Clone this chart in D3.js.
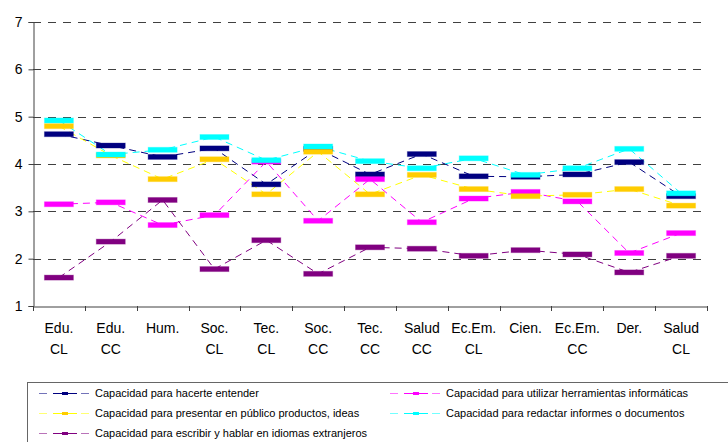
<!DOCTYPE html>
<html>
<head>
<meta charset="utf-8">
<script src="https://cdn.jsdelivr.net/npm/d3@7"></script>
<style>
  body { margin: 0; background: #fff; }
  svg { display: block; font-family: "Liberation Sans", Arial, sans-serif; }
</style>
</head>
<body>
<div id="chart"></div>
<script>
const categories = ["Edu. CL", "Edu. CC", "Hum.", "Soc. CL", "Tec. CL", "Soc. CC", "Tec. CC",
  "Salud CC", "Ec.Em. CL", "Cien.", "Ec.Em. CC", "Der.", "Salud CL"];

const hacerte      = [4.63, 4.39, 4.15, 4.33, 3.57, 4.32, 3.78, 4.21, 3.74, 3.73, 3.78, 4.04, 3.32];
const informaticas = [3.15, 3.19, 2.71, 2.92, 4.05, 2.80, 3.68, 2.77, 3.27, 3.41, 3.21, 2.12, 2.54];
const presentar    = [4.80, 4.18, 3.68, 4.10, 3.36, 4.26, 3.36, 3.77, 3.47, 3.32, 3.35, 3.47, 3.12];
const redactar     = [4.92, 4.20, 4.30, 4.57, 4.08, 4.37, 4.06, 3.91, 4.12, 3.77, 3.91, 4.32, 3.38];
const idiomas      = [1.60, 2.36, 3.24, 1.78, 2.39, 1.68, 2.24, 2.21, 2.06, 2.18, 2.09, 1.71, 2.06];

const yTicks = [1, 2, 3, 4, 5, 6, 7];

const series = [
  { name: "Capacidad para hacerte entender", values: hacerte, line: "#000080", mark: "#000080" },
  { name: "Capacidad para utilizar herramientas informáticas", values: informaticas, line: "#FF00FF", mark: "#FF00FF" },
  { name: "Capacidad para presentar en público productos, ideas", values: presentar, line: "#FFFF00", mark: "#FFCC00" },
  { name: "Capacidad para redactar informes o documentos", values: redactar, line: "#00FFFF", mark: "#00FFFF" },
  { name: "Capacidad para escribir y hablar en idiomas extranjeros", values: idiomas, line: "#800080", mark: "#800080" }
];

const width = 728, height = 442;
const plot = { left: 33, right: 707, top: 22, bottom: 306 };

const svg = d3.select("#chart").append("svg")
  .attr("width", width)
  .attr("height", height);

const x = d3.scaleBand()
  .domain(categories)
  .range([plot.left, plot.right]);

const y = d3.scaleLinear()
  .domain([1, 7])
  .range([plot.bottom, plot.top]);

// gridlines
svg.append("g")
  .selectAll("line")
  .data(yTicks.filter(d => d > 1))
  .enter()
  .append("line")
  .attr("x1", plot.left)
  .attr("x2", 702)
  .attr("y1", d => Math.round(y(d)) + 0.5)
  .attr("y2", d => Math.round(y(d)) + 0.5)
  .attr("stroke", "#404040")
  .attr("stroke-width", 1)
  .attr("stroke-dasharray", "8,7");

// y axis
const yAxis = svg.append("g")
  .attr("transform", `translate(${plot.left + 0.5},0)`)
  .call(d3.axisLeft(y).tickValues(yTicks).tickFormat(d3.format("d")).tickSize(5).tickPadding(6));
yAxis.select(".domain").attr("stroke", "#404040");
yAxis.selectAll(".tick line").attr("stroke", "#404040");
yAxis.selectAll("text")
  .attr("font-size", "14px")
  .attr("font-family", "'Liberation Sans', Arial, sans-serif")
  .attr("fill", "#000");

// x axis
const xAxis = svg.append("g")
  .attr("transform", `translate(0,${plot.bottom + 0.5})`)
  .call(d3.axisBottom(x).tickSize(0).tickFormat(""));
xAxis.select(".domain").attr("stroke", "#404040");

// category boundary ticks
svg.append("g")
  .selectAll("line")
  .data(categories.concat(["__end"]))
  .enter()
  .append("line")
  .attr("x1", (d, i) => Math.round(i < categories.length ? x(d) : plot.right) + 0.5)
  .attr("x2", (d, i) => Math.round(i < categories.length ? x(d) : plot.right) + 0.5)
  .attr("y1", plot.bottom)
  .attr("y2", plot.bottom + 5)
  .attr("stroke", "#404040");

// category labels (two lines)
const catText = svg.append("g")
  .selectAll("text")
  .data(categories)
  .enter()
  .append("text")
  .attr("text-anchor", "middle")
  .attr("font-size", "14px")
  .attr("fill", "#000")
  .attr("transform", d => `translate(${x(d) + x.bandwidth() / 2},333)`);

catText.each(function(d) {
  const parts = d.split(" ");
  const t = d3.select(this);
  parts.forEach((p, i) => {
    t.append("tspan")
      .attr("x", 0)
      .attr("y", i * 21)
      .text(p);
  });
});

const cx = i => x(categories[i]) + x.bandwidth() / 2;

// lines
const lineGen = d3.line()
  .x((d, i) => cx(i))
  .y(d => y(d));

svg.append("g")
  .selectAll("path")
  .data(series)
  .enter()
  .append("path")
  .attr("d", d => lineGen(d.values))
  .attr("fill", "none")
  .attr("stroke", d => d.line)
  .attr("stroke-width", 1)
  .attr("stroke-dasharray", "7,5");

// markers
series.forEach(s => {
  svg.append("g")
    .selectAll("rect")
    .data(s.values)
    .enter()
    .append("rect")
    .attr("x", (d, i) => cx(i) - 14.5)
    .attr("y", d => y(d) - 2.5)
    .attr("width", 29)
    .attr("height", 5)
    .attr("fill", s.mark)
    .attr("stroke", s.mark)
    .attr("stroke-opacity", 0.3)
    .attr("stroke-width", 1);
});

// legend
svg.append("rect")
  .attr("x", 27.5)
  .attr("y", 382.5)
  .attr("width", 720)
  .attr("height", 80)
  .attr("fill", "#fff")
  .attr("stroke", "#666");

const legendPos = [
  { x: 39, y: 393 },
  { x: 390, y: 393 },
  { x: 39, y: 413 },
  { x: 390, y: 413 },
  { x: 39, y: 433 }
];

series.forEach((s, i) => {
  const p = legendPos[i];
  const g = svg.append("g").attr("transform", `translate(${p.x},${p.y})`);
  g.append("line")
    .attr("x1", 0)
    .attr("x2", 52)
    .attr("y1", 0.5)
    .attr("y2", 0.5)
    .attr("stroke", s.line)
    .attr("stroke-opacity", 0.55)
    .attr("stroke-dasharray", "8,6");
  g.append("line")
    .attr("x1", 14)
    .attr("x2", 38)
    .attr("y1", 0.5)
    .attr("y2", 0.5)
    .attr("stroke", s.line)
    .attr("stroke-width", 1);
  g.append("rect")
    .attr("x", 23)
    .attr("y", -1)
    .attr("width", 6)
    .attr("height", 3)
    .attr("fill", s.mark);
  g.append("text")
    .attr("x", 56)
    .attr("y", 4)
    .attr("font-size", "11px")
    .attr("fill", "#000")
    .text(s.name);
});
</script>
</body>
</html>
